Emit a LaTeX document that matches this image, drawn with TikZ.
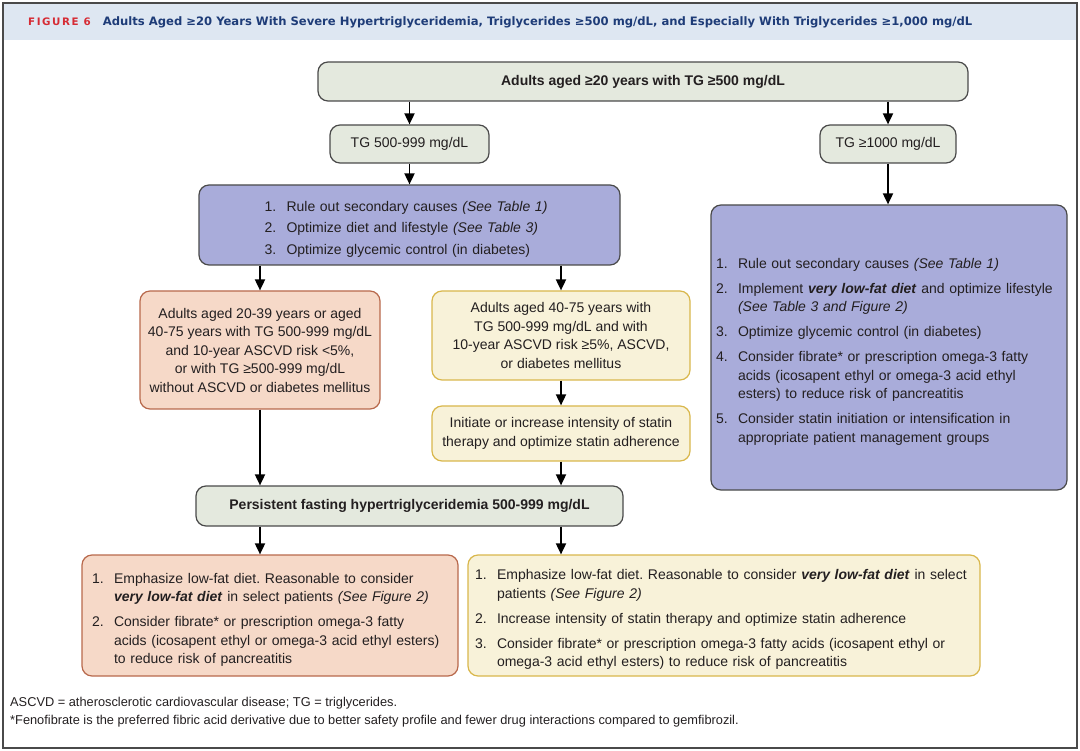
\documentclass[tikz,border=0pt]{standalone}
\usepackage{fontspec}
\usepackage{enumitem}
\usetikzlibrary{arrows.meta}
\setmainfont{Liberation Sans}
\newfontfamily\titlefont{DejaVu Sans}
\definecolor{txtgray}{HTML}{231F20}
\definecolor{framegray}{HTML}{4A4A4A}
\definecolor{bandblue}{HTML}{DEE7F2}
\definecolor{figred}{HTML}{D62B34}
\definecolor{titleblue}{HTML}{1E3C78}
\definecolor{sagefill}{HTML}{E4E9DE}
\definecolor{lilacfill}{HTML}{A9ACDA}
\definecolor{peachfill}{HTML}{F6D9C8}
\definecolor{peachline}{HTML}{B8694C}
\definecolor{creamfill}{HTML}{F8F2D9}
\definecolor{creamline}{HTML}{D9B74C}
\setlist[enumerate]{label=\arabic*.,leftmargin=22pt,labelwidth=16pt,labelsep=6pt,align=left,topsep=0pt,partopsep=0pt,parsep=0pt,itemsep=6.5pt}
\frenchspacing

\begin{document}
\begin{tikzpicture}[x=1pt,y=-1pt,
    font=\fontsize{14}{18.5}\selectfont,text=txtgray,
    box/.style={draw=framegray,line width=1.2pt,rounded corners=10pt,align=center,inner sep=0pt},
    sage/.style={box,fill=sagefill},
    lilac/.style={box,fill=lilacfill},
    peach/.style={box,draw=peachline,fill=peachfill},
    cream/.style={box,draw=creamline,fill=creamfill},
    arr/.style={line width=1.8pt,-{Triangle[width=10pt,length=11pt]}}]
    \useasboundingbox (0,0) rectangle (1080,751);
    \fill[bandblue] (3,3) rectangle (1077,40);
    \draw[framegray,line width=1.5pt] (3,3) rectangle (1077,748);
    \node[anchor=west,inner sep=0pt,font=\titlefont\bfseries\fontsize{11.6}{13}\selectfont] (title) at (28,22)
        {\textcolor{figred}{\fontsize{10.3}{12}\selectfont\addfontfeature{LetterSpace=15}FIGURE 6}\hspace{12pt}\textcolor{titleblue}{Adults Aged ≥20 Years With Severe Hypertriglyceridemia, Triglycerides ≥500 mg/dL, and Especially With Triglycerides ≥1,000 mg/dL}};
    % first split on TG
    \node[sage,minimum width=650,minimum height=39] (top) at (643,81.5) {\bfseries Adults aged ≥20 years with TG ≥500 mg/dL};
    \node[sage,minimum width=159,minimum height=38] (tg5) at (409.5,144) {TG 500-999 mg/dL};
    \node[sage,minimum width=136,minimum height=38] (tg10) at (888,144) {TG ≥1000 mg/dL};
    \node[lilac,minimum width=421,minimum height=80,text width=290,align=left] (pur1) at (409.5,225)
        {\begin{enumerate}[itemsep=3pt]
            \item Rule out secondary causes \textit{(See Table 1)}
            \item Optimize diet and lifestyle \textit{(See Table 3)}
            \item Optimize glycemic control (in diabetes)
        \end{enumerate}};
    \node[lilac,minimum width=356,minimum height=285,text width=346,align=left] (pur2) at (889,347.5)
        {\begin{enumerate}
            \item Rule out secondary causes \textit{(See Table 1)}
            \item Implement \textbf{\textit{very low-fat diet}} and optimize lifestyle\newline \textit{(See Table 3 and Figure 2)}
            \item Optimize glycemic control (in diabetes)
            \item Consider fibrate* or prescription omega-3 fatty\newline acids (icosapent ethyl or omega-3 acid ethyl\newline esters) to reduce risk of pancreatitis
            \item Consider statin initiation or intensification in\newline appropriate patient management groups
        \end{enumerate}};
    % risk groups
    \node[peach,minimum width=240,minimum height=118] (org) at (260,350)
        {Adults aged 20-39 years or aged\\40-75 years with TG 500-999 mg/dL\\and 10-year ASCVD risk <5\%,\\or with TG ≥500-999 mg/dL\\without ASCVD or diabetes mellitus};
    \node[cream,minimum width=258,minimum height=89] (yel1) at (561,335.5)
        {Adults aged 40-75 years with\\TG 500-999 mg/dL and with\\10-year ASCVD risk ≥5\%, ASCVD,\\or diabetes mellitus};
    \node[cream,minimum width=258,minimum height=55] (yel2) at (561,433.5)
        {Initiate or increase intensity of statin\\therapy and optimize statin adherence};
    \node[sage,minimum width=427,minimum height=40] (pers) at (409.5,506) {\bfseries Persistent fasting hypertriglyceridemia 500-999 mg/dL};
    \node[peach,minimum width=376,minimum height=121,text width=356,align=left] (botorg) at (270,615.5)
        {\begin{enumerate}
            \item Emphasize low-fat diet. Reasonable to consider\newline \textbf{\textit{very low-fat diet}} in select patients \textit{(See Figure 2)}
            \item Consider fibrate* or prescription omega-3 fatty\newline acids (icosapent ethyl or omega-3 acid ethyl esters)\newline to reduce risk of pancreatitis
        \end{enumerate}};
    \node[cream,minimum width=512,minimum height=121,text width=498,align=left] (botyel) at (724,615.5)
        {\begin{enumerate}
            \item Emphasize low-fat diet. Reasonable to consider \textbf{\textit{very low-fat diet}} in select\newline patients \textit{(See Figure 2)}
            \item Increase intensity of statin therapy and optimize statin adherence
            \item Consider fibrate* or prescription omega-3 fatty acids (icosapent ethyl or\newline omega-3 acid ethyl esters) to reduce risk of pancreatitis
        \end{enumerate}};
    \node[anchor=north west,align=left,inner sep=0pt,font=\fontsize{12.8}{18}\selectfont] (notes) at (10,697)
        {ASCVD = atherosclerotic cardiovascular disease; TG = triglycerides.\\{*}Fenofibrate is the preferred fibric acid derivative due to better safety profile and fewer drug interactions compared to gemfibrozil.};
    % arrows
    \draw[arr] (top.south -| tg5.north) -- (tg5.north);
    \draw[arr] (top.south -| tg10.north) -- (tg10.north);
    \draw[arr] (tg5.south) -- (tg5.south |- pur1.north);
    \draw[arr] (tg10.south) -- (tg10.south |- pur2.north);
    \draw[arr] (pur1.south -| org.north) -- (org.north);
    \draw[arr] (pur1.south -| yel1.north) -- (yel1.north);
    \draw[arr] (yel1.south) -- (yel2.north);
    \draw[arr] (org.south) -- (org.south |- pers.north);
    \draw[arr] (yel2.south) -- (yel2.south |- pers.north);
    \draw[arr] (pers.south -| org.south) -- (botorg.north -| org.south);
    \draw[arr] (pers.south -| yel2.south) -- (botyel.north -| yel2.south);
\end{tikzpicture}
\end{document}
